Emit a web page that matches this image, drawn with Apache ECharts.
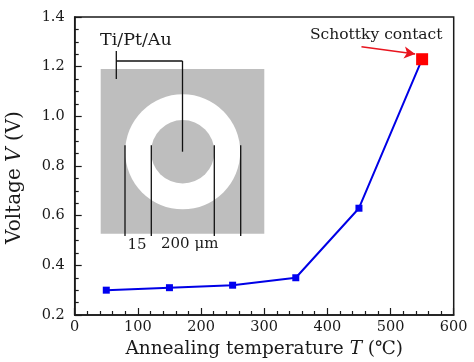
<!DOCTYPE html>
<html><head><meta charset="utf-8">
<style>html,body{margin:0;padding:0;background:#fff}#c{width:474px;height:362px}</style>
<script src="https://cdn.jsdelivr.net/npm/echarts@6/dist/echarts.min.js"></script>
</head><body><div id="c"></div>
<script>
const temperatures = [50, 150, 250, 350, 450, 550];
const voltages = [0.30, 0.31, 0.32, 0.35, 0.63, 1.23];
const xTicks = [0, 100, 200, 300, 400, 500, 600];
const INK = '#1a1a1a', GREY = '#bebebe', SERIF = '"DejaVu Serif","Liberation Serif",serif';
const chart = echarts.init(document.getElementById('c'), null, {renderer:'canvas'});
const vline = (x, y1, y2) => ({type:'line', shape:{x1:x,y1:y1,x2:x,y2:y2}, style:{stroke:'#111',lineWidth:1.3}});
const txt = (t, x, y, size, align) => ({type:'text', style:{text:t, x:x, y:y, font:size+'px "DejaVu Serif",serif', fill:INK, align:align||'left', verticalAlign:'middle'}});
const axisCommon = {
  axisLine:{onZero:false, lineStyle:{color:INK,width:1.5}},
  splitLine:{show:false},
  axisTick:{inside:true,length:7,lineStyle:{color:INK,width:1.2}},
  axisLabel:{color:INK,fontFamily:SERIF,fontSize:14.5,margin:5}
};
const titleRich = size => ({a:{fontFamily:SERIF,fontSize:size,color:INK},i:{fontFamily:SERIF,fontStyle:'italic',fontSize:size,color:INK}});
chart.setOption({
  animation:false,
  grid:{left:74.7,right:20.3,top:17,bottom:47,show:true,borderColor:INK,borderWidth:1.5,backgroundColor:'transparent',outerBoundsMode:'none',containLabel:false},
  xAxis:Object.assign({},axisCommon,{type:'value',min:xTicks[0],max:xTicks[xTicks.length-1],interval:100,
    minorTick:{show:true,splitNumber:5,length:4,lineStyle:{color:INK,width:1.2}},
    name:'{a|Annealing temperature }{i|T}{a| (℃)}',nameLocation:'middle',nameGap:25,
    nameTextStyle:{rich:titleRich(18.5)}}),
  yAxis:Object.assign({},axisCommon,{type:'value',min:0.2,max:1.4,interval:0.2,
    minorTick:{show:true,splitNumber:4,length:4,lineStyle:{color:INK,width:1.2}},
    axisLabel:Object.assign({},axisCommon.axisLabel,{margin:10,formatter:v=>v.toFixed(1)}),
    name:'{a|Voltage }{i|V}{a| (V)}',nameLocation:'middle',nameGap:50,
    nameTextStyle:{padding:[0,23,0,0],rich:titleRich(20)}}),
  graphic:{elements:[
    {type:'group',silent:true,z:1,children:[
      {type:'rect',shape:{x:100.7,y:69,width:163.6,height:164.7},style:{fill:GREY}},
      {type:'circle',shape:{cx:182.7,cy:151.8,r:57.5},style:{fill:'#fff'}},
      {type:'circle',shape:{cx:182.7,cy:151.8,r:31.7},style:{fill:GREY}},
      vline(125,145.3,236),vline(151.3,145.3,236),vline(214.3,145.3,236),vline(240.7,145.3,236),
      vline(116.3,51,79),vline(182.5,61,151.7),
      {type:'line',shape:{x1:116.3,y1:61,x2:182.5,y2:61},style:{stroke:'#111',lineWidth:1.3}},
      txt('Ti/Pt/Au',100,40.5,17.5),
      txt('15',137,245.5,15,'center'),
      txt('200 μm',161,244.5,15),
      txt('Schottky contact',310,35,15.5)
    ]}
  ]},
  series:[{
    type:'line',z:3,symbol:'rect',symbolSize:7,
    lineStyle:{color:'#0000e6',width:2},itemStyle:{color:'#0000f0'},
    data:temperatures.map((t,i)=> i===temperatures.length-1
      ? {value:[t,voltages[i]],symbolSize:12,itemStyle:{color:'#ff0000'}}
      : [t,voltages[i]]),
    markLine:{silent:true,symbol:['none','arrow'],symbolSize:[9,11],label:{show:false},
      lineStyle:{color:'#e8141e',width:1.5,type:'solid'},
      data:[[{coord:[454,1.28]},{coord:[539,1.251]}]]}
  }]
});
</script></body></html>
